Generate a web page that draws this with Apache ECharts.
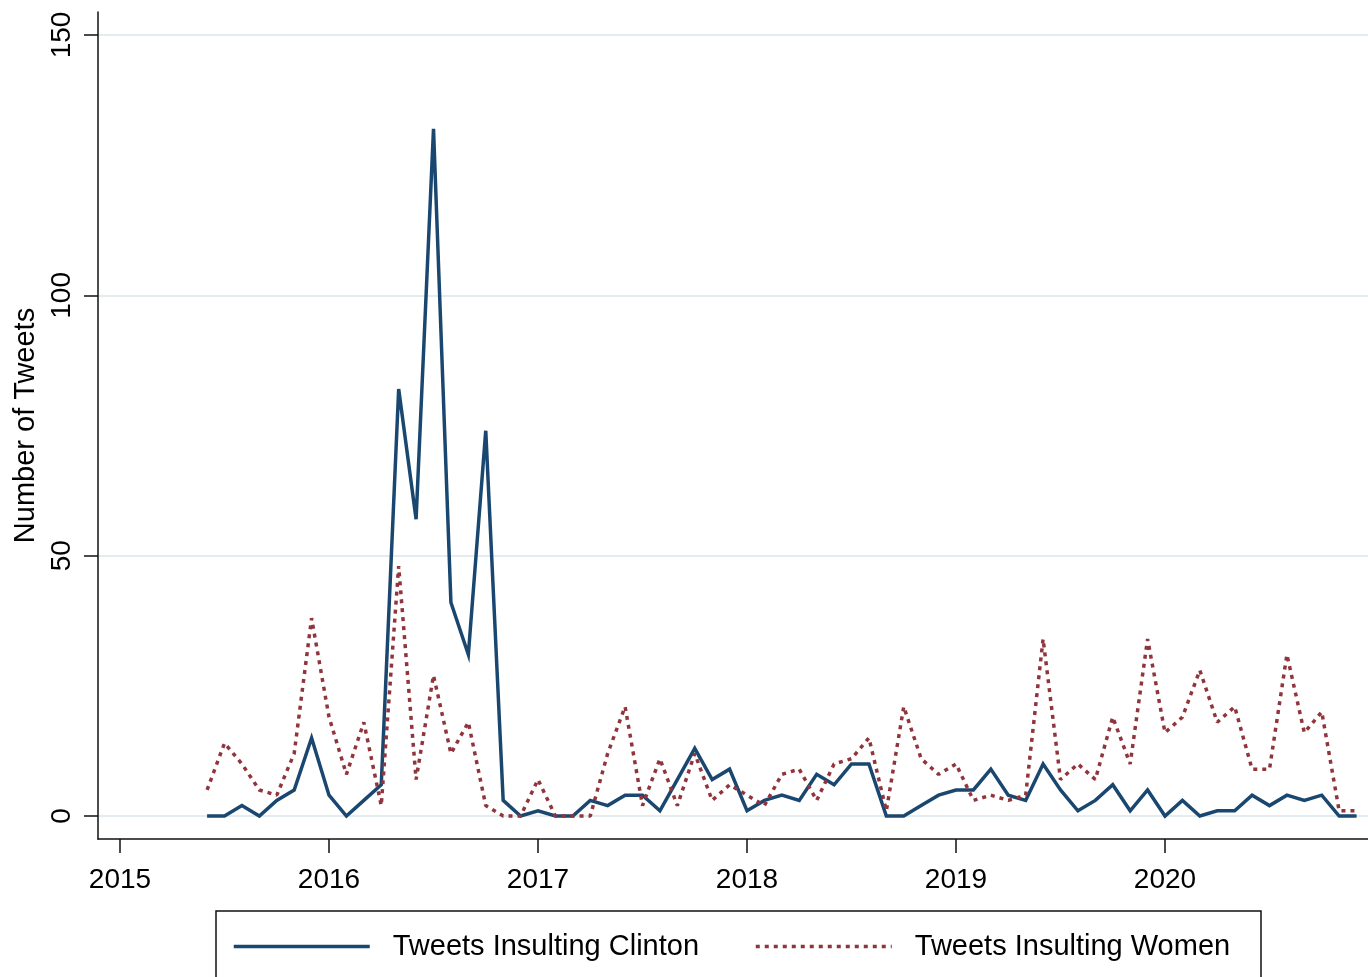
<!DOCTYPE html>
<html>
<head>
<meta charset="utf-8">
<script src="https://cdn.jsdelivr.net/npm/echarts@6/dist/echarts.min.js"></script>
<style>
  html, body { margin: 0; padding: 0; background: #ffffff; }
  #chart { width: 1368px; height: 977px; }
</style>
</head>
<body>
<div id="chart"></div>
<script>
// Monthly counts, June 2015 – December 2020
const months = [
  '2015-06','2015-07','2015-08','2015-09','2015-10','2015-11','2015-12',
  '2016-01','2016-02','2016-03','2016-04','2016-05','2016-06','2016-07','2016-08','2016-09','2016-10','2016-11','2016-12',
  '2017-01','2017-02','2017-03','2017-04','2017-05','2017-06','2017-07','2017-08','2017-09','2017-10','2017-11','2017-12',
  '2018-01','2018-02','2018-03','2018-04','2018-05','2018-06','2018-07','2018-08','2018-09','2018-10','2018-11','2018-12',
  '2019-01','2019-02','2019-03','2019-04','2019-05','2019-06','2019-07','2019-08','2019-09','2019-10','2019-11','2019-12',
  '2020-01','2020-02','2020-03','2020-04','2020-05','2020-06','2020-07','2020-08','2020-09','2020-10','2020-11','2020-12'
];

const clinton = [
  0, 0, 2, 0, 3, 5, 15,
  4, 0, 3, 6, 82, 57, 132, 41, 31, 74, 3, 0,
  1, 0, 0, 3, 2, 4, 4, 1, 7, 13, 7, 9,
  1, 3, 4, 3, 8, 6, 10, 10, 0, 0, 2, 4,
  5, 5, 9, 4, 3, 10, 5, 1, 3, 6, 1, 5,
  0, 3, 0, 1, 1, 4, 2, 4, 3, 4, 0, 0
];

const women = [
  5, 14, 10, 5, 4, 12, 38,
  19, 8, 18, 2, 48, 7, 27, 12, 18, 2, 0, 0,
  7, 0, 0, 0, 12, 21, 2, 11, 2, 12, 3, 6,
  4, 2, 8, 9, 3, 10, 11, 15, 1, 21, 11, 8,
  10, 3, 4, 3, 4, 34, 7, 10, 7, 19, 10, 34,
  16, 19, 28, 18, 21, 9, 9, 31, 16, 20, 1, 1
];

const yearTicks = [2015, 2016, 2017, 2018, 2019, 2020];
const countTicks = [0, 50, 100, 150];

const seriesNames = ['Tweets Insulting Clinton', 'Tweets Insulting Women'];

// Decimal year for each month (January sits on the year tick)
function toYear(m) {
  const [y, mo] = m.split('-').map(Number);
  return y + (mo - 1) / 12;
}
const clintonPts = months.map((m, i) => [toYear(m), clinton[i]]);
const womenPts = months.map((m, i) => [toYear(m), women[i]]);

const FONT = '"Liberation Sans", Arial, Helvetica, sans-serif';
const NAVY = '#1a476f';
const MAROON = '#90353b';
const GRID = '#e4ecef';
const DOTS = [4, 5];

const chart = echarts.init(document.getElementById('chart'), null, { renderer: 'canvas' });

chart.setOption({
  backgroundColor: '#ffffff',
  animation: false,
  grid: { left: 98, top: 12, right: 0, height: 827 },
  xAxis: {
    type: 'value',
    min: 2014.8947,
    max: 2020.9713,
    axisLine: { show: true, onZero: false, lineStyle: { color: '#111', width: 1.5 } },
    axisTick: { show: true, length: 14, customValues: yearTicks, lineStyle: { color: '#111', width: 1.5 } },
    axisLabel: {
      customValues: yearTicks,
      formatter: v => String(Math.round(v)),
      fontSize: 28, fontFamily: FONT, color: '#000', margin: 27
    },
    splitLine: { show: false }
  },
  yAxis: {
    type: 'value',
    min: -4.417,
    max: 154.42,
    name: 'Number of Tweets',
    nameLocation: 'middle',
    nameRotate: 90,
    nameGap: 56,
    nameTextStyle: { fontSize: 29, fontFamily: FONT, color: '#000' },
    axisLine: { show: true, onZero: false, lineStyle: { color: '#111', width: 1.5 } },
    axisTick: { show: true, length: 14, customValues: countTicks, lineStyle: { color: '#111', width: 1.5 } },
    axisLabel: {
      customValues: countTicks,
      rotate: 90,
      fontSize: 28, fontFamily: FONT, color: '#000', margin: 22
    },
    splitLine: { show: true, lineStyle: { color: GRID, width: 2 } }
  },
  legend: {
    left: 232,
    top: 932,
    padding: 0,
    itemWidth: 136,
    itemHeight: 14,
    itemGap: 55,
    data: seriesNames,
    itemStyle: { color: 'rgba(0,0,0,0)', borderWidth: 0, opacity: 0 },
    lineStyle: { width: 3.5 },
    textStyle: { fontSize: 29, fontFamily: FONT, color: '#000', padding: [0, 0, 0, 18] }
  },
  graphic: [{
    type: 'rect',
    shape: { x: 216, y: 911, width: 1045, height: 80 },
    style: { fill: 'none', stroke: '#111', lineWidth: 1.5 },
    silent: true
  }],
  series: [
    {
      name: seriesNames[0],
      type: 'line',
      data: clintonPts,
      symbol: 'none',
      showSymbol: false,
      lineStyle: { color: NAVY, width: 3.5, join: 'miter' },
      itemStyle: { color: NAVY },
      z: 2
    },
    {
      name: seriesNames[1],
      type: 'line',
      data: womenPts,
      symbol: 'none',
      showSymbol: false,
      lineStyle: { color: MAROON, width: 3.5, type: DOTS, cap: 'butt' },
      itemStyle: { color: MAROON },
      z: 3
    }
  ]
});
</script>
</body>
</html>
